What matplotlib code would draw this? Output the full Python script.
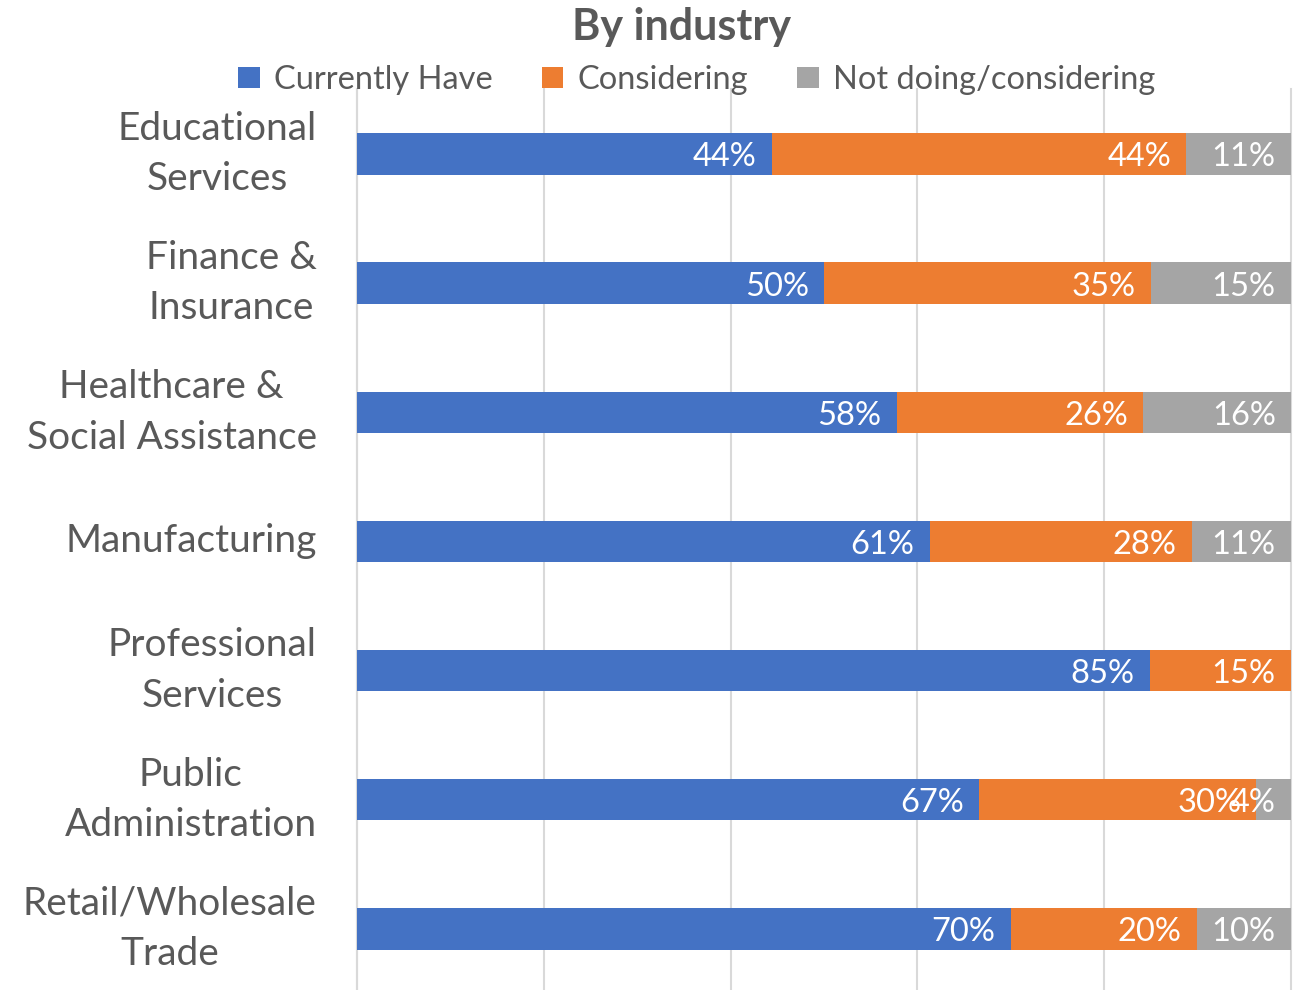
import matplotlib
matplotlib.use("Agg")
import matplotlib.pyplot as plt
from matplotlib.patches import Patch
import numpy as np

plt.rcParams['font.family'] = ['Lato', 'DejaVu Sans']

categories = ["Educational\nServices", "Finance &\nInsurance", "Healthcare &\nSocial Assistance",
              "Manufacturing", "Professional\nServices", "Public\nAdministration",
              "Retail/Wholesale\nTrade"]
series_names = ["Currently Have", "Considering", "Not doing/considering"]
currently_have = [44.4, 50.0, 57.8, 61.3, 84.9, 66.6, 70.0]
considering = [44.4, 35.0, 26.4, 28.1, 15.1, 29.7, 19.9]
not_doing = [11.2, 15.0, 15.8, 10.6, 0.0, 3.7, 10.1]
colors = ["#4472C4", "#ED7D31", "#A5A5A5"]
text_color = "#595959"

fig = plt.figure(figsize=(12.94, 9.9), dpi=100)
ax = fig.add_axes([357/1294, -0.0036, (1291-357)/1294, 0.9133])

y = np.arange(len(categories))
left = np.zeros(len(categories))
for vals, name, col in zip([currently_have, considering, not_doing], series_names, colors):
    vals = np.array(vals)
    ax.barh(y, vals, left=left, height=0.32, color=col, label=name, zorder=3)
    for yi, l, v in zip(y, left, vals):
        if v > 0:
            ax.annotate(f"{v:.0f}%", xy=(l + v, yi), xytext=(-11, -2.5), textcoords="offset points",
                        ha="right", va="center", color="white", fontsize=23.5, zorder=4)
    left = left + vals

ax.set_xlim(0, 100)
ax.set_ylim(len(categories) - 0.5, -0.5)
ax.set_xticks(np.arange(0, 101, 20))
ax.xaxis.grid(True, color="#D9D9D9", linewidth=1.5, zorder=0)
ax.tick_params(axis="x", length=0, labelbottom=False)
ax.set_yticks(y)
ax.set_yticklabels(categories, fontsize=28, color=text_color, multialignment="center",
                   linespacing=1.5, va="center")
ax.tick_params(axis="y", length=0, pad=29)
for s in ["top", "right", "bottom"]:
    ax.spines[s].set_visible(False)
ax.spines["left"].set_color("#D9D9D9")
ax.spines["left"].set_linewidth(1.5)
for gl in ax.get_xgridlines():
    gl.set_clip_on(False)

fig.text(681/1294, 1 - 27/990, "By industry", ha="center", va="center",
         fontsize=31, fontweight="bold", color=text_color)
handles = [Patch(facecolor=c, label=n) for c, n in zip(colors, series_names)]
fig.legend(handles=handles, loc="center", bbox_to_anchor=(697/1294, 1 - 80/990), ncol=3,
           frameon=False, fontsize=23.5, labelcolor=text_color, handlelength=0.65, handleheight=0.65,
           handletextpad=0.45, columnspacing=1.5)

fig.savefig("out.png", dpi=100)
